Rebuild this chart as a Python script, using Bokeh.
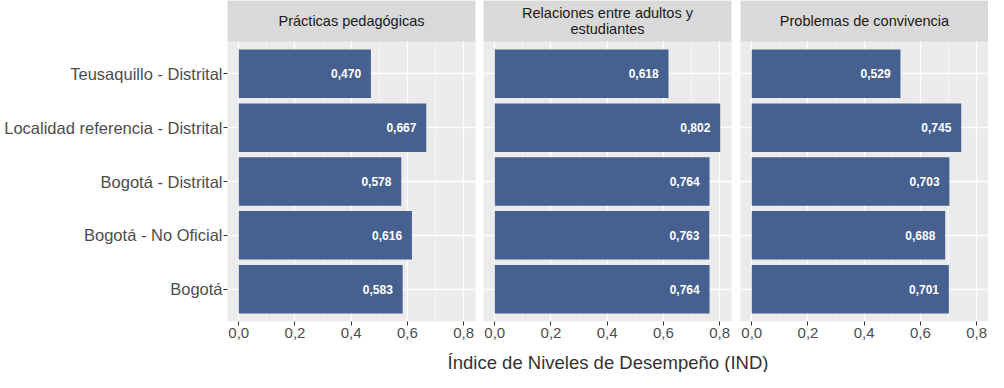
from bokeh.plotting import figure
from bokeh.layouts import row, column
from bokeh.models import Range1d, FixedTicker, Grid, ColumnDataSource, Label
from bokeh.core.properties import value
from bokeh.embed import file_html
from bokeh.resources import INLINE

# ---- data ----
categories = ["Teusaquillo - Distrital", "Localidad referencia - Distrital",
              "Bogotá - Distrital", "Bogotá - No Oficial", "Bogotá"]
panel_titles = ["Prácticas pedagógicas", "Relaciones entre adultos y\nestudiantes",
                "Problemas de convivencia"]
practicas = [0.470, 0.667, 0.578, 0.616, 0.583]
relaciones = [0.618, 0.802, 0.764, 0.763, 0.764]
convivencia = [0.529, 0.745, 0.703, 0.688, 0.701]
x_ticks = [0.0, 0.2, 0.4, 0.6, 0.8]
x_tick_labels = ["0,0", "0,2", "0,4", "0,6", "0,8"]
x_minor = [0.1, 0.3, 0.5, 0.7]
x_label = "Índice de Niveles de Desempeño (IND)"

series = [practicas, relaciones, convivencia]

FONT = "Liberation Sans"
BAR = "#46608f"
PANEL_BG = "#ebebeb"
STRIP_BG = "#d9d9d9"

n = len(categories)
ypos = list(range(n, 0, -1))  # top to bottom
vmax = max(max(s) for s in series)
xpad = vmax * 0.05
x_start, x_end = -xpad, vmax + xpad

H = 346
frame_w = 248
border_bottom = 25
strip_px = 41
panel_px = H - border_bottom - strip_px
y_lo, y_hi = 0.4, n + 0.6
strip_units = strip_px * (y_hi - y_lo) / panel_px

borders = [(227, 4), (4, 4), (5, 0)]

figs = []
for i, (vals, title) in enumerate(zip(series, panel_titles)):
    bl, br = borders[i]
    p = figure(width=bl + frame_w + br, height=H, output_backend="svg",
               toolbar_location=None,
               x_range=Range1d(x_start, x_end),
               y_range=Range1d(y_lo, y_hi + strip_units),
               y_axis_location="left" if i == 0 else None,
               min_border_left=bl, min_border_right=br,
               min_border_top=0, min_border_bottom=border_bottom)
    p.outline_line_color = None
    p.background_fill_color = PANEL_BG
    p.border_fill_color = "white"

    xa = p.xaxis[0]
    xa.ticker = FixedTicker(ticks=x_ticks, minor_ticks=x_minor)
    xa.major_label_overrides = {t: l for t, l in zip(x_ticks, x_tick_labels)}
    xa.axis_line_color = None
    xa.major_tick_line_color = "#333333"
    xa.major_tick_in = 0
    xa.major_tick_out = 4
    xa.minor_tick_line_color = None
    xa.major_label_standoff = 2
    xa.major_label_text_font = FONT
    xa.major_label_text_font_size = "15px"
    xa.major_label_text_color = "#4d4d4d"

    p.xgrid.grid_line_color = "white"
    p.xgrid.grid_line_width = 1.3
    p.xgrid.minor_grid_line_color = "white"
    p.xgrid.minor_grid_line_width = 0.6

    if i == 0:
        ya = p.yaxis[0]
        ya.ticker = FixedTicker(ticks=ypos)
        ya.major_label_overrides = {y: c for y, c in zip(ypos, categories)}
        ya.axis_line_color = None
        ya.major_tick_line_color = "#333333"
        ya.major_tick_in = 0
        ya.major_tick_out = 4
        ya.minor_tick_line_color = None
        ya.major_label_standoff = 1
        ya.major_label_text_font = FONT
        ya.major_label_text_font_size = "16.5px"
        ya.major_label_text_color = "#4d4d4d"
        p.ygrid.ticker = FixedTicker(ticks=ypos)
        p.ygrid.grid_line_color = "white"
        p.ygrid.grid_line_width = 1.3
    else:
        p.add_layout(Grid(dimension=1, ticker=FixedTicker(ticks=ypos),
                          grid_line_color="white", grid_line_width=1.3))

    src = ColumnDataSource(dict(
        y=ypos, v=vals,
        lx=[v - 0.035 for v in vals],
        lab=[f"{v:.3f}".replace(".", ",") for v in vals]))
    p.hbar(y="y", left=0, right="v", height=0.9, source=src,
           fill_color=BAR, line_color=None)
    p.text(x="lx", y="y", text="lab", source=src, text_align="right",
           text_baseline="middle", text_color="white",
           text_font=value(FONT), text_font_size="12px",
           text_font_style="bold")

    # strip
    p.quad(left=[x_start], right=[x_end], bottom=[y_hi],
           top=[y_hi + strip_units], fill_color=STRIP_BG, line_color=None)
    p.text(x=[(x_start + x_end) / 2], y=[y_hi + strip_units / 2], text=[title],
           text_align="center", text_baseline="middle", text_color="#1a1a1a",
           text_font=value(FONT), text_font_size="14.5px",
           text_line_height=0.98)
    figs.append(p)

total_w = sum(b[0] + frame_w + b[1] for b in borders)
LH = 26
lab_fig = figure(width=total_w, height=LH, output_backend="svg",
                 toolbar_location=None, x_axis_location=None,
                 y_axis_location=None, min_border=0,
                 x_range=Range1d(0, total_w), y_range=Range1d(0, LH))
lab_fig.outline_line_color = None
lab_fig.xgrid.visible = False
lab_fig.ygrid.visible = False
panels_left = borders[0][0]
panels_right = total_w - borders[2][1]
lab_fig.add_layout(Label(x=(panels_left + panels_right) / 2, y=10,
                         x_units="screen", y_units="screen", text=x_label,
                         text_align="center", text_baseline="middle",
                         text_font=FONT, text_font_size="18.5px",
                         text_color="#333333"))

layout = column(row(*figs, spacing=0), lab_fig, spacing=0)
open("out.html", "w").write(file_html(layout, INLINE))
